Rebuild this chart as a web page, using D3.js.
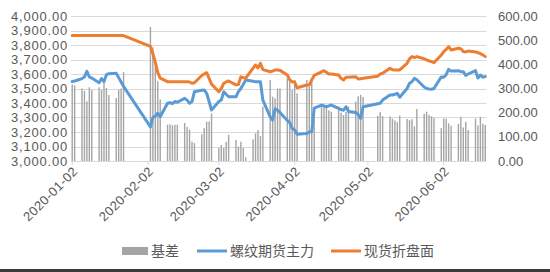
<!DOCTYPE html>
<html>
<head>
<meta charset="utf-8">
<script src="https://cdn.jsdelivr.net/npm/d3@7"></script>
<style>
  body { margin: 0; background: #fff; }
  svg { display: block; }
  text { font-family: "Liberation Sans", Arial, sans-serif; fill: #595959; }
  .cjk { font-family: "Noto Sans CJK SC", sans-serif; }
</style>
</head>
<body>
<svg width="550" height="272"></svg>
<script>
// trading days, Jan..Jun 2020
const dates = [
  "2020-01-02","2020-01-03","2020-01-06","2020-01-07","2020-01-08","2020-01-09","2020-01-10",
  "2020-01-13","2020-01-14","2020-01-15","2020-01-16","2020-01-17","2020-01-20","2020-01-21",
  "2020-01-22","2020-01-23",
  "2020-02-03","2020-02-04","2020-02-05","2020-02-06","2020-02-07","2020-02-10","2020-02-11",
  "2020-02-12","2020-02-13","2020-02-14","2020-02-17","2020-02-18","2020-02-19","2020-02-20",
  "2020-02-21","2020-02-24","2020-02-25","2020-02-26","2020-02-27","2020-02-28",
  "2020-03-02","2020-03-03","2020-03-04","2020-03-05","2020-03-06","2020-03-09","2020-03-10",
  "2020-03-11","2020-03-12","2020-03-13","2020-03-16","2020-03-17","2020-03-18","2020-03-19",
  "2020-03-20","2020-03-23","2020-03-24","2020-03-25","2020-03-26","2020-03-27","2020-03-30",
  "2020-03-31",
  "2020-04-01","2020-04-02","2020-04-03","2020-04-07","2020-04-08","2020-04-09","2020-04-10",
  "2020-04-13","2020-04-14","2020-04-15","2020-04-16","2020-04-17","2020-04-20","2020-04-21",
  "2020-04-22","2020-04-23","2020-04-24","2020-04-27","2020-04-28","2020-04-29","2020-04-30",
  "2020-05-06","2020-05-07","2020-05-08","2020-05-11","2020-05-12","2020-05-13","2020-05-14",
  "2020-05-15","2020-05-18","2020-05-19","2020-05-20","2020-05-21","2020-05-22","2020-05-25",
  "2020-05-26","2020-05-27","2020-05-28","2020-05-29",
  "2020-06-01","2020-06-02","2020-06-03","2020-06-04","2020-06-05","2020-06-08","2020-06-09",
  "2020-06-10","2020-06-11","2020-06-12","2020-06-15","2020-06-16","2020-06-17","2020-06-18",
  "2020-06-19"
];

// 螺纹期货主力
const futures = [
  3548,3552,3568,3580,3618,3580,3572,3540,3568,3548,3595,3602,3605,3575,3545,3515,
  3235,3300,3310,3330,3305,3398,3402,3395,3410,3405,3432,3420,3398,3410,3478,3488,3490,3467,3410,3352,
  3410,3421,3478,3460,3443,3443,3478,3500,3530,3559,3550,3547,3547,3547,3420,3305,3283,3360,3350,3335,3280,3265,
  3225,3214,3185,3190,3200,3202,3365,3386,3380,3374,3380,3386,3363,3355,3350,3374,3342,3335,3320,3294,3374,
  3395,3398,3420,3455,3455,3460,3467,3440,3500,3536,3547,3570,3560,3510,3500,3497,3495,3500,
  3580,3578,3595,3632,3620,3623,3616,3616,3590,3600,3623,3572,3593,3578,3582
];

// 现货折盘面
const spot = [
  3865,3865,3865,3865,3865,3865,3865,3865,3865,3865,3865,3865,3865,3865,3865,3865,
  3790,3740,3680,3610,3572,3547,3547,3547,3547,3547,3547,3547,3545,3536,3540,3590,3600,3609,3570,3530,
  3478,3500,3536,3545,3552,3525,3528,3580,3575,3572,3640,3662,3642,3674,3630,3616,3620,3628,3628,3625,3593,3559,
  3547,3545,3505,3524,3524,3560,3590,3615,3623,3612,3600,3600,3593,3570,3559,3577,3577,3581,3566,3568,3570,
  3585,3600,3605,3639,3630,3628,3628,3628,3674,3705,3720,3713,3720,3705,3697,3690,3685,3678,
  3731,3754,3770,3788,3766,3777,3775,3755,3752,3758,3752,3748,3740,3732,3720
];

// 基差
const basis = [
  317,313,300,290,247,305,294,305,294,328,302,273,261,294,300,368,
  555,470,390,330,255,150,152,148,150,150,157,141,130,80,74,110,136,163,163,197,
  54,66,54,80,108,87,59,80,54,15,90,114,128,103,225,335,266,259,300,300,342,328,
  294,335,280,335,307,330,210,229,232,220,210,204,225,200,190,203,225,246,268,274,265,
  186,202,185,184,175,168,161,188,174,169,173,143,215,195,204,190,185,178,
  136,176,175,156,146,154,183,139,162,128,176,147,183,154,149
];

const leftTicks = [3000,3100,3200,3300,3400,3500,3600,3700,3800,3900,4000];
const rightTicks = [0,100,200,300,400,500,600];
const xTickDates = ["2020-01-02","2020-02-02","2020-03-02","2020-04-02","2020-05-02","2020-06-02"];
const seriesNames = ["基差","螺纹期货主力","现货折盘面"];
const colors = ["#a5a5a5","#5b9bd5","#ed7d31"];

const parse = d3.timeParse("%Y-%m-%d");
const data = dates.map((d, i) => ({
  date: parse(d), fut: futures[i], spot: spot[i], basis: basis[i]
}));

const svg = d3.select("svg");
const plotL = 71, plotR = 486.5, plotT = 16, plotB = 161;

const x = d3.scaleTime()
  .domain([new Date(2020,0,1,12), new Date(2020,5,19,12)])
  .range([plotL, plotR]);
const yL = d3.scaleLinear().domain([3000,4000]).range([plotB, plotT]);
const yR = d3.scaleLinear().domain([0,600]).range([plotB, plotT]);

// gridlines
svg.append("g").selectAll("line").data(leftTicks.slice(1)).join("line")
  .attr("x1", plotL).attr("x2", plotR)
  .attr("y1", d => Math.round(yL(d)) + 0.5).attr("y2", d => Math.round(yL(d)) + 0.5)
  .attr("stroke", "#d9d9d9").attr("stroke-width", 1);

// left axis labels
const fmtL = d3.format(",.2f");
svg.append("g").selectAll("text").data(leftTicks).join("text")
  .attr("x", 68).attr("y", d => yL(d)).attr("dy", "0.35em")
  .attr("text-anchor", "end").attr("font-size", 13).attr("letter-spacing", 0.8)
  .text(fmtL);

// right axis labels
const fmtR = d3.format(".2f");
svg.append("g").selectAll("text").data(rightTicks).join("text")
  .attr("x", 498).attr("y", d => yR(d)).attr("dy", "0.35em")
  .attr("font-size", 13)
  .text(fmtR);

// bars
const bw = 1.4;
svg.append("g").selectAll("rect").data(data).join("rect")
  .attr("x", d => x(d.date) - bw / 2)
  .attr("width", bw)
  .attr("y", d => yR(d.basis))
  .attr("height", d => yR(0) - yR(d.basis))
  .attr("fill", colors[0]);

// x axis line + ticks
svg.append("line")
  .attr("x1", plotL).attr("x2", plotR)
  .attr("y1", plotB + 0.5).attr("y2", plotB + 0.5)
  .attr("stroke", "#d9d9d9");
const tickDates = xTickDates.map(parse);
svg.append("g").selectAll("line").data(tickDates).join("line")
  .attr("x1", d => x(d)).attr("x2", d => x(d))
  .attr("y1", plotB).attr("y2", plotB + 4)
  .attr("stroke", "#d9d9d9");
svg.append("g").selectAll("text").data(xTickDates).join("text")
  .attr("transform", d => `translate(${x(parse(d)) + 3},${plotB + 8}) rotate(-45)`)
  .attr("text-anchor", "end").attr("dy", "0.35em")
  .attr("font-size", 13).attr("letter-spacing", 0.4)
  .text(d => d);

// lines
const lineFut = d3.line().x(d => x(d.date)).y(d => yL(d.fut));
const lineSpot = d3.line().x(d => x(d.date)).y(d => yL(d.spot));
svg.append("path").datum(data).attr("d", lineFut)
  .attr("fill", "none").attr("stroke", colors[1]).attr("stroke-width", 3)
  .attr("stroke-linejoin", "round").attr("stroke-linecap", "round");
svg.append("path").datum(data).attr("d", lineSpot)
  .attr("fill", "none").attr("stroke", colors[2]).attr("stroke-width", 3)
  .attr("stroke-linejoin", "round").attr("stroke-linecap", "round");

// legend
const ly = 251;
const lg = svg.append("g");
lg.append("rect").attr("x", 122).attr("y", ly - 4).attr("width", 26).attr("height", 8).attr("fill", colors[0]);
lg.append("text").attr("class", "cjk").attr("x", 151).attr("y", ly).attr("dy", "0.35em").attr("font-size", 14).text(seriesNames[0]);
lg.append("line").attr("x1", 197).attr("x2", 227).attr("y1", ly).attr("y2", ly).attr("stroke", colors[1]).attr("stroke-width", 3);
lg.append("text").attr("class", "cjk").attr("x", 230).attr("y", ly).attr("dy", "0.35em").attr("font-size", 14).text(seriesNames[1]);
lg.append("line").attr("x1", 331).attr("x2", 361).attr("y1", ly).attr("y2", ly).attr("stroke", colors[2]).attr("stroke-width", 3);
lg.append("text").attr("class", "cjk").attr("x", 364).attr("y", ly).attr("dy", "0.35em").attr("font-size", 14).text(seriesNames[2]);

// bottom frame edge
svg.append("rect").attr("x", 0).attr("y", 269).attr("width", 550).attr("height", 3).attr("fill", "#3a3a3a");
</script>
</body>
</html>
